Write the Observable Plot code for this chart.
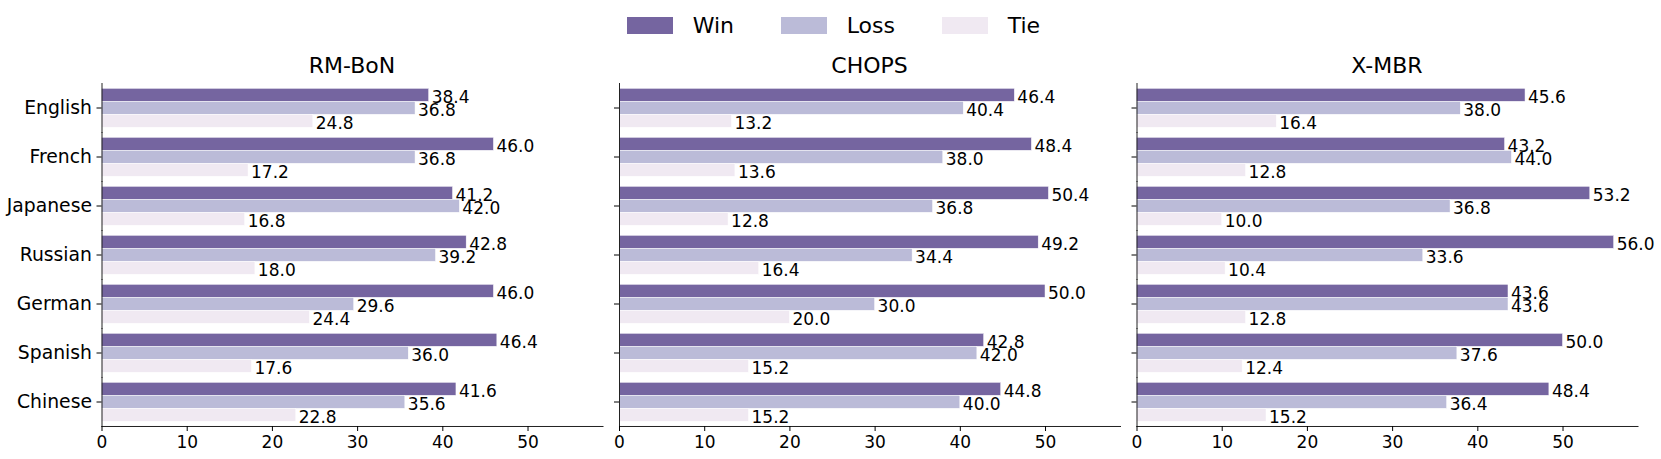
<!DOCTYPE html>
<html>
<head>
<meta charset="utf-8">
<script src="https://cdn.jsdelivr.net/npm/d3@7"></script>
<script src="https://cdn.jsdelivr.net/npm/@observablehq/plot@0.6"></script>
<style>
  body { margin: 0; background: #fff; font-family: "DejaVu Sans", sans-serif; color: #000; }
  #wrap { position: relative; width: 1661px; height: 459px; overflow: hidden; background: #fff; }
  .panel { position: absolute; top: 0; }
  .title { position: absolute; top: 55px; width: 300px; margin-left: -150px; font-size: 22px; line-height: 1; text-align: center; }
  .sw { position: absolute; top: 17.3px; width: 46.6px; height: 16.7px; }
  .lt { position: absolute; top: 14.5px; font-size: 22px; line-height: 1; }
</style>
</head>
<body>
<div id="wrap"></div>
<script>
// ---- data ----
const methods = ["RM-BoN", "CHOPS", "X-MBR"];
const languages = ["English", "French", "Japanese", "Russian", "German", "Spanish", "Chinese"];
const series = ["Win", "Loss", "Tie"];
const colors = ["#7565a0", "#bbbbd8", "#f0e9f2"];
const xTicks = [0, 10, 20, 30, 40, 50];

const winRM   = [38.4, 46.0, 41.2, 42.8, 46.0, 46.4, 41.6];
const lossRM  = [36.8, 36.8, 42.0, 39.2, 29.6, 36.0, 35.6];
const tieRM   = [24.8, 17.2, 16.8, 18.0, 24.4, 17.6, 22.8];

const winCH   = [46.4, 48.4, 50.4, 49.2, 50.0, 42.8, 44.8];
const lossCH  = [40.4, 38.0, 36.8, 34.4, 30.0, 42.0, 40.0];
const tieCH   = [13.2, 13.6, 12.8, 16.4, 20.0, 15.2, 15.2];

const winXM   = [45.6, 43.2, 53.2, 56.0, 43.6, 50.0, 48.4];
const lossXM  = [38.0, 44.0, 36.8, 33.6, 43.6, 37.6, 36.4];
const tieXM   = [16.4, 12.8, 10.0, 10.4, 12.8, 12.4, 15.2];

const panelSeries = [
  [winRM, lossRM, tieRM],
  [winCH, lossCH, tieCH],
  [winXM, lossXM, tieXM]
];

// ---- layout ----
const wrap = document.getElementById("wrap");
const layout = [
  {left: 0,    width: 610, marginLeft: 101.5, marginRight: 7.5},
  {left: 610,  width: 517, marginLeft: 9,     marginRight: 7},
  {left: 1127, width: 534, marginLeft: 9.5,   marginRight: 23.5}
];

methods.forEach((m, mi) => {
  const rows = [];
  languages.forEach((lang, li) => {
    series.forEach((s, si) => {
      rows.push({language: lang, series: s, value: panelSeries[mi][si][li]});
    });
  });
  const L = layout[mi];
  const chart = Plot.plot({
    width: L.width,
    height: 459,
    marginTop: 81.7,
    marginBottom: 31.5,
    marginLeft: L.marginLeft,
    marginRight: L.marginRight,
    style: {fontFamily: "DejaVu Sans", background: "transparent", overflow: "visible", color: "#000"},
    x: {domain: [0, 58.8], axis: null},
    y: {domain: series, paddingInner: 0, paddingOuter: 0.375, axis: null},
    fy: {domain: languages, padding: 0, axis: null},
    color: {domain: series, range: colors},
    marks: [
      Plot.barX(rows, {x: "value", y: "series", fy: "language", fill: "series", stroke: "white", strokeWidth: 0.5}),
      Plot.text(rows, {x: "value", y: "series", fy: "language", text: d => d.value.toFixed(1),
        textAnchor: "start", dx: 2.5, dy: 2.5, fontSize: 17, fill: "#000"}),
      Plot.frame({anchor: "left", stroke: "#222", strokeWidth: 1}),
      Plot.frame({anchor: "bottom", facetAnchor: "bottom", stroke: "#222", strokeWidth: 1}),
      Plot.axisFy({anchor: "left", label: null, tickSize: 5, tickPadding: 5, fontSize: 18.8,
        tickFormat: mi === 0 ? (d => d) : (() => "")}),
      Plot.axisX({ticks: xTicks, tickSize: 5, tickPadding: 4, fontSize: 17, label: null, tickFormat: d => String(d)})
    ]
  });
  const div = document.createElement("div");
  div.className = "panel";
  div.style.left = L.left + "px";
  div.appendChild(chart);
  wrap.appendChild(div);

  const t = document.createElement("div");
  t.className = "title";
  t.style.left = (L.left + L.marginLeft + (L.width - L.marginLeft - L.marginRight) / 2) + "px";
  t.textContent = m;
  wrap.appendChild(t);
});

// ---- legend ----
const swatchLeft = [626.7, 780.7, 941.7];
series.forEach((s, i) => {
  const sw = document.createElement("div");
  sw.className = "sw";
  sw.style.left = swatchLeft[i] + "px";
  sw.style.background = colors[i];
  wrap.appendChild(sw);
  const tx = document.createElement("div");
  tx.className = "lt";
  tx.style.left = (swatchLeft[i] + 66) + "px";
  tx.textContent = s;
  wrap.appendChild(tx);
});
</script>
</body>
</html>
